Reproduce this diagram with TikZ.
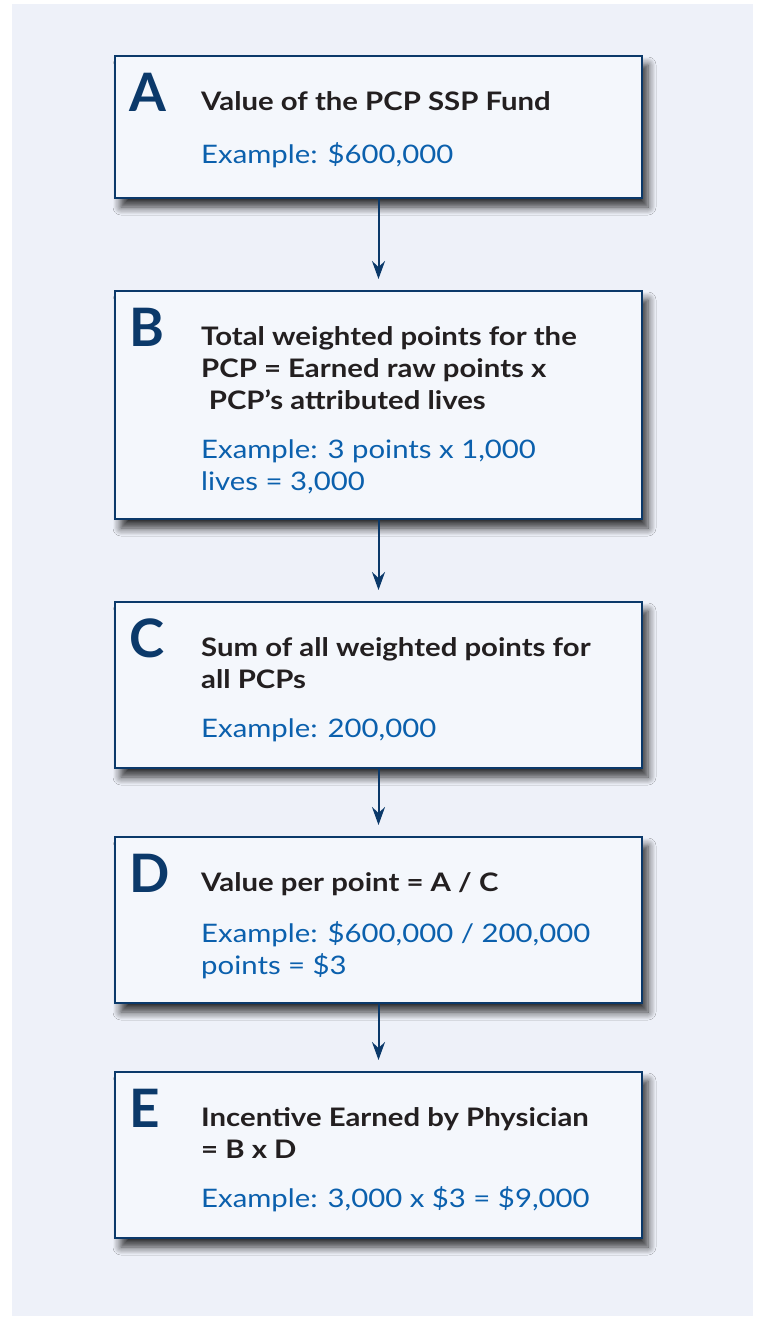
\documentclass[tikz,border=0pt]{standalone}
\usepackage{fontspec}
\setmainfont{Lato}[FakeStretch=1.15]
\newfontfamily\letterfont{Lato}
\usetikzlibrary{shadows.blur,arrows.meta}

\definecolor{panel}{HTML}{EEF1F9}
\definecolor{boxfill}{HTML}{F4F7FC}
\definecolor{navy}{HTML}{0B396A}
\definecolor{headtext}{HTML}{231F20}
\definecolor{exampletext}{HTML}{0B60AD}

\tikzset{
  stepbox/.style={draw=navy, line width=2pt, fill=boxfill, rectangle,
    anchor=north west, minimum width=527pt, inner sep=0pt,
    blur shadow={shadow xshift=6pt, shadow yshift=-9pt,
      shadow blur radius=8pt, shadow blur steps=8, shadow opacity=80}},
  letter/.style={anchor=base west, inner sep=0pt, text=navy,
    font=\letterfont\fontsize{53}{53}\selectfont\bfseries},
  head/.style={anchor=base west, inner sep=0pt, text=headtext,
    font=\fontsize{25.5}{32}\selectfont\bfseries},
  example/.style={anchor=base west, inner sep=0pt, text=exampletext,
    font=\fontsize{25.5}{32}\selectfont},
  flow/.style={draw=navy, line width=2pt,
    -{Stealth[length=18pt, width=13pt, inset=6pt]}}
}
\newcommand{\lines}[1]{\parbox[t]{430pt}{\setlength{\baselineskip}{32pt}\raggedright #1}}

\begin{document}
\begin{tikzpicture}[x=1pt, y=-1pt]
  \useasboundingbox (0,0) rectangle (759,1319);
  \fill[white] (0,0) rectangle (759,1319);
  \fill[panel] (12,4) rectangle (753,1316);

  % boxes
  \node[stepbox, minimum height=142pt] (A) at (114,55) {};
  \node[stepbox, minimum height=228pt] (B) at (114,290) {};
  \node[stepbox, minimum height=166pt] (C) at (114,601) {};
  \node[stepbox, minimum height=166pt] (D) at (114,836) {};
  \node[stepbox, minimum height=166pt] (E) at (114,1071) {};

  % A
  \node[letter] (la) at (129,112) {A};
  \node[head] (ha) at (201,111) {Value of the PCP SSP Fund};
  \node[example] (ea) at (201,163) {Example: \$600,000};

  % B
  \node[letter] (lb) at (129,346) {B};
  \node[head] (hb) at (201,345) {\lines{Total weighted points for the\\
    PCP = Earned raw points x\\
    \hspace*{0.3em}PCP’s attributed lives}};
  \node[example] (eb) at (201,458) {\lines{Example: 3 points x 1,000\\
    lives = 3,000}};

  % C
  \node[letter] (lc) at (129,657) {C};
  \node[head] (hc) at (201,656) {\lines{Sum of all weighted points for\\
    all PCPs}};
  \node[example] (ec) at (201,737) {Example: 200,000};

  % D
  \node[letter] (ld) at (129,892) {D};
  \node[head] (hd) at (201,891) {Value per point = A / C};
  \node[example] (ed) at (201,942) {\lines{Example: \$600,000 / 200,000\\
    points = \$3}};

  % E
  \node[letter] (le) at (129,1127) {E};
  \node[head] (he) at (201,1126) {\lines{Incentive Earned by Physician\\
    = B x D}};
  \node[example] (ee) at (201,1207) {Example: 3,000 x \$3 = \$9,000};

  % connectors
  \draw[flow] (A.south) -- ([yshift=11pt]B.north);
  \draw[flow] (B.south) -- ([yshift=11pt]C.north);
  \draw[flow] (C.south) -- ([yshift=11pt]D.north);
  \draw[flow] (D.south) -- ([yshift=11pt]E.north);
\end{tikzpicture}
\end{document}
